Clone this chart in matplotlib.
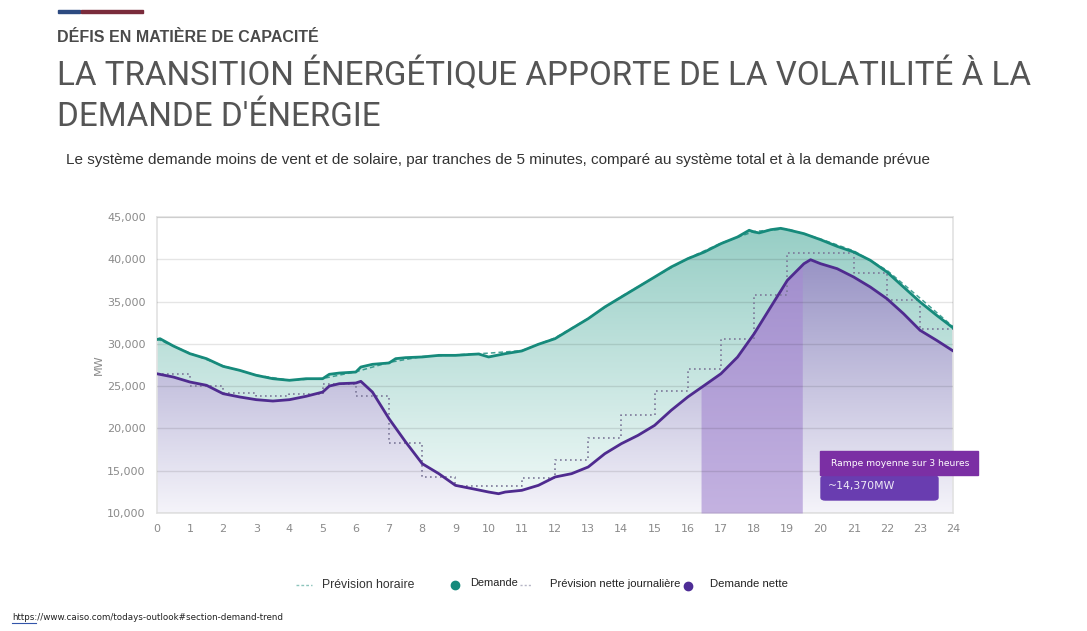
import numpy as np
import matplotlib
matplotlib.use("Agg")
import matplotlib.pyplot as plt
from matplotlib.patches import Rectangle, FancyBboxPatch
from matplotlib.colors import to_rgb

# ── données ──────────────────────────────────────────────────────────────────
hours_ticks = list(range(0, 25))
y_ticks = [10000, 15000, 20000, 25000, 30000, 35000, 40000, 45000]

demand_h = [0, 0.1, 0.5, 1, 1.5, 2, 2.5, 3, 3.5, 4, 4.5, 5, 5.2, 5.5, 6, 6.15,
            6.5, 7, 7.2, 7.5, 8, 8.5, 9, 9.5, 9.7, 10, 10.5, 11, 11.5, 12, 12.5,
            13, 13.5, 14, 14.5, 15, 15.5, 16, 16.5, 17, 17.5, 17.85, 18, 18.15,
            18.5, 18.8, 19, 19.5, 20, 20.5, 21, 21.5, 22, 22.5, 23, 23.5, 24]
demand_mw = [30500, 30610, 29750, 28840, 28250, 27340, 26870, 26280, 25880,
             25690, 25880, 25880, 26400, 26550, 26670, 27260, 27580, 27740,
             28250, 28370, 28450, 28640, 28640, 28760, 28800, 28450, 28840,
             29160, 29950, 30610, 31800, 32980, 34360, 35540, 36720, 37900,
             39090, 40070, 40860, 41850, 42640, 43430, 43230, 43120, 43500,
             43660, 43500, 43030, 42320, 41530, 40860, 39880, 38500, 36720,
             34950, 33370, 31870]

fc_hourly_mw = [30600, 28900, 27400, 26300, 25700, 25900, 26700, 27800, 28500,
                28700, 28900, 29200, 30700, 33000, 35600, 37900, 40100, 41900,
                43300, 43600, 42400, 41000, 38700, 35400, 32000]

net_h = [0, 0.5, 1, 1.5, 2, 2.5, 3, 3.5, 4, 4.5, 5, 5.2, 5.5, 6, 6.15, 6.5, 7,
         7.5, 8, 8.5, 9, 9.5, 10, 10.3, 10.5, 11, 11.5, 12, 12.5, 13, 13.5, 14,
         14.5, 15, 15.5, 16, 16.5, 17, 17.5, 18, 18.5, 19, 19.5, 19.7, 20, 20.5,
         21, 21.5, 22, 22.5, 23, 23.5, 24]
net_mw = [26470, 26080, 25490, 25100, 24110, 23720, 23400, 23240, 23400, 23800,
          24300, 25010, 25290, 25370, 25570, 24300, 21150, 18400, 15830, 14650,
          13270, 12880, 12480, 12280, 12480, 12680, 13270, 14255, 14650, 15440,
          17010, 18200, 19180, 20360, 22140, 23720, 25090, 26470, 28440, 31200,
          34360, 37510, 39480, 39950, 39480, 38890, 37900, 36720, 35340, 33570,
          31600, 30410, 29150]

net_fc_mw = [26470, 24980, 24190, 23800, 24110, 25290, 23800, 18320, 14250,
             13150, 13150, 14180, 16320, 18880, 21640, 24440, 26970, 30610,
             35740, 40740, 40740, 38380, 35150, 31800, 31800]

ramp_start, ramp_end = 16.4, 19.45

TEAL = "#168a7b"
PURPLE = "#4f2b8f"
GRAY_T = "#8a8a8a"

W, H = 1087, 631
fig = plt.figure(figsize=(W / 100, H / 100), dpi=100, facecolor="white")


def fx(px):
    return px / W


def fy(py):
    return 1 - py / H


# ── en-tête ──────────────────────────────────────────────────────────────────
fig.patches.append(Rectangle((fx(58), fy(13)), fx(22), 3 / H,
                             transform=fig.transFigure, color="#2c4a80"))
fig.patches.append(Rectangle((fx(81), fy(13)), fx(62), 3 / H,
                             transform=fig.transFigure, color="#7a2b3b"))
fig.text(fx(57), fy(38), "DÉFIS EN MATIÈRE DE CAPACITÉ", fontsize=11.5,
         fontweight="bold", color="#4a4a4a", family="Liberation Sans",
         va="center", ha="left")
fig.text(fx(57), fy(75), "LA TRANSITION ÉNERGÉTIQUE APPORTE DE LA VOLATILITÉ À LA",
         fontsize=23.9, color="#555555", family="Roboto",
         va="center", ha="left")
fig.text(fx(57), fy(117), "DEMANDE D'ÉNERGIE",
         fontsize=23.9, color="#555555", family="Roboto",
         va="center", ha="left")
fig.text(fx(66), fy(160),
         "Le système demande moins de vent et de solaire, par tranches de 5 minutes, "
         "comparé au système total et à la demande prévue",
         fontsize=11.0, color="#333333", family="Liberation Sans",
         va="center", ha="left")

# ── graphique ────────────────────────────────────────────────────────────────
ax = fig.add_axes([fx(156.7), fy(513), fx(953.3 - 156.7), (513 - 217) / H])
ax.set_xlim(0, 24)
ax.set_ylim(10000, 45000)


def gradient_fill(x, y, bottom_col, top_col, z):
    poly = ax.fill_between(x, y, 10000, color="none", lw=0, zorder=z)
    t = np.linspace(0, 1, 256)[:, None]
    c0 = np.array(to_rgb(bottom_col))
    c1 = np.array(to_rgb(top_col))
    img = (c0 + (c1 - c0) * t)[:, None, :]
    im = ax.imshow(img, extent=[0, 24, 10000, 45000], origin="lower",
                   aspect="auto", zorder=z, interpolation="bilinear")
    im.set_clip_path(poly.get_paths()[0], transform=ax.transData)


gradient_fill(demand_h, demand_mw, "#f4fbfa", "#93ccc3", 1)
gradient_fill(net_h, net_mw, "#f5f4fa", "#8983bc", 2)

# bande de rampe
nh = np.array(net_h)
mask = (nh >= ramp_start) & (nh <= ramp_end)
band_x = np.concatenate([[ramp_start], nh[mask], [ramp_end]])
band_y = np.interp(band_x, net_h, net_mw)
ax.fill_between(band_x, band_y, 10000, color="#a68ad2", alpha=0.62, lw=0,
                zorder=3)

for v in y_ticks:
    ax.axhline(v, color="black", alpha=0.1, lw=1, zorder=4)

ax.plot(range(25), fc_hourly_mw, color=TEAL, lw=1.1, ls=(0, (3, 2)),
        alpha=0.8, zorder=5)
ax.plot(hours_ticks, net_fc_mw, color="#7c7899", lw=1.2, ls=(0, (1, 2)),
        drawstyle="steps-post", zorder=5)
ax.plot(demand_h, demand_mw, color=TEAL, lw=2, zorder=6)
ax.plot(net_h, net_mw, color=PURPLE, lw=2, zorder=6)

ax.set_xticks(hours_ticks)
ax.set_yticks(y_ticks)
ax.set_yticklabels([f"{v:,}" for v in y_ticks])
ax.tick_params(length=0, labelsize=8, colors=GRAY_T, pad=8)
ax.set_ylabel("MW", fontsize=8, color=GRAY_T, labelpad=2)
for s in ax.spines.values():
    s.set_color("#e2e2e2")
    s.set_linewidth(1.2)

# ── encadré rampe ────────────────────────────────────────────────────────────
fig.patches.append(FancyBboxPatch((fx(821), fy(500)), fx(117), (500 - 476) / H,
                                  boxstyle="round,pad=0,rounding_size=0.004",
                                  transform=fig.transFigure, color="#693db0",
                                  zorder=10))
fig.patches.append(Rectangle((fx(820), fy(475)), fx(158), (475 - 451) / H,
                             transform=fig.transFigure, color="#7b2fa4",
                             zorder=11))
fig.text(fx(831), fy(463), "Rampe moyenne sur 3 heures", fontsize=6.6,
         color="white", va="center", ha="left", zorder=12)
fig.text(fx(828), fy(486), "~14,370MW", fontsize=7.8, color="#eeeaf6",
         va="center", ha="left", zorder=12)

# ── légende ──────────────────────────────────────────────────────────────────
fig.add_artist(plt.Line2D([fx(296), fx(312)], [fy(585), fy(585)], lw=1,
                          ls=(0, (2, 1.5)), color="#8cc4bc"))
fig.text(fx(322), fy(585), "Prévision horaire", fontsize=8.8, color="#333333",
         family="Liberation Sans", va="center")
fig.add_artist(plt.Line2D([fx(455)], [fy(585)], marker="o", ms=6, color=TEAL,
                          lw=0))
fig.text(fx(470), fy(583), "Demande", fontsize=7.9, color="#222222",
         family="Liberation Sans", va="center")
fig.add_artist(plt.Line2D([fx(520), fx(532)], [fy(585), fy(585)], lw=1,
                          ls=(0, (1.5, 1.5)), color="#b5b5c5"))
fig.text(fx(550), fy(584), "Prévision nette journalière", fontsize=8.1,
         color="#222222", family="Liberation Sans", va="center")
fig.add_artist(plt.Line2D([fx(688)], [fy(586)], marker="o", ms=6,
                          color="#4e2d96", lw=0))
fig.text(fx(710), fy(584), "Demande nette", fontsize=8.2, color="#222222",
         family="Liberation Sans", va="center")

# ── source ───────────────────────────────────────────────────────────────────
fig.text(fx(12), fy(617), "https://www.caiso.com/todays-outlook#section-demand-trend",
         fontsize=6.3, color="#222222", family="Liberation Sans Narrow",
         va="center", ha="left")
fig.add_artist(plt.Line2D([fx(12), fx(36)], [fy(623), fy(623)], lw=0.8,
                          color="#3355aa"))

fig.savefig("out.png", dpi=100, facecolor="white")
